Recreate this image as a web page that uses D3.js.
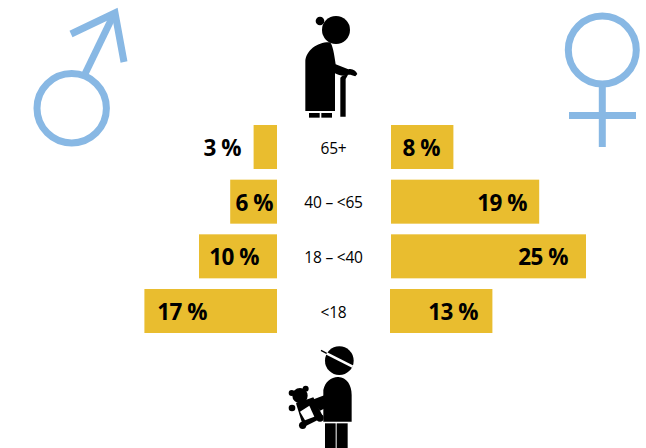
<!DOCTYPE html>
<html>
<head>
<meta charset="utf-8">
<script src="https://cdn.jsdelivr.net/npm/d3@7"></script>
<style>
html,body{margin:0;padding:0;background:#fff}
svg{display:block}
text{font-family:"Open Sans",sans-serif;fill:#000}
</style>
</head>
<body>
<svg id="chart" width="646" height="448"></svg>
<script>
// Age groups, oldest first
const ageGroups = ["65+", "40 – <65", "18 – <40", "<18"];
// Share of each group, in percent
const maleShare = [3, 6, 10, 17];
const femaleShare = [8, 19, 25, 13];

const barColor = "#e9bd2f";
const symbolColor = "#88b8e4";

const svg = d3.select("#chart");

const y = d3.scaleBand().domain(ageGroups).range([125, 333]).paddingInner(0.195);
const widthOf = d3.scaleLinear().domain([0, 25]).range([0, 195]);
const maleAxisX = 277;
const femaleAxisX = 391;

// Right-hand end of each value label, set by hand so the text sits clear of the bar ends
const maleLabelEnd = new Map([[3, 241], [6, 273], [10, 259], [17, 207]]);
const femaleLabelEnd = new Map([[8, 440], [19, 527], [25, 568], [13, 478]]);

const rows = ageGroups.map((age, i) => ({ age, male: maleShare[i], female: femaleShare[i] }));

// Male bars grow leftwards from the centre column
svg.append("g").selectAll("rect").data(rows).join("rect")
  .attr("x", d => maleAxisX - widthOf(d.male))
  .attr("y", d => y(d.age))
  .attr("width", d => widthOf(d.male))
  .attr("height", y.bandwidth())
  .attr("fill", barColor);

// Female bars grow rightwards; the youngest row starts a pixel further left
svg.append("g").selectAll("rect").data(rows).join("rect")
  .attr("x", d => femaleAxisX - (d.age === "<18" ? 1 : 0))
  .attr("y", d => y(d.age))
  .attr("width", d => widthOf(d.female) + (d.age === "<18" ? 1 : 0))
  .attr("height", y.bandwidth())
  .attr("fill", barColor);

const labelStyle = sel => sel
  .attr("y", d => y(d.age) + y.bandwidth() / 2 + 1)
  .attr("dy", "0.36em")
  .attr("text-anchor", "end")
  .attr("font-size", 22.5)
  .attr("font-weight", 700)
  .attr("letter-spacing", -0.5);

svg.append("g").selectAll("text").data(rows).join("text")
  .call(labelStyle)
  .attr("x", d => maleLabelEnd.get(d.male))
  .text(d => d.male + " %");

svg.append("g").selectAll("text").data(rows).join("text")
  .call(labelStyle)
  .attr("x", d => femaleLabelEnd.get(d.female))
  .text(d => d.female + " %");

// Age labels down the centre column
svg.append("g").selectAll("text").data(rows).join("text")
  .attr("x", 333.5)
  .attr("y", d => y(d.age) + y.bandwidth() / 2 + 1)
  .attr("dy", "0.36em")
  .attr("text-anchor", "middle")
  .attr("font-size", 15.5)
  .attr("letter-spacing", -0.2)
  .text(d => d.age);

// Mars symbol
const mars = svg.append("g").attr("fill", "none").attr("stroke", symbolColor).attr("stroke-width", 7);
mars.append("circle").attr("cx", 71.7).attr("cy", 108.3).attr("r", 34.7);
mars.append("path").attr("d", "M84 76L113 16");
mars.append("path").attr("d", "M71 34L115 13L124 62").attr("stroke-linejoin", "miter");

// Venus symbol
const venus = svg.append("g").attr("fill", "none").attr("stroke", symbolColor).attr("stroke-width", 7);
venus.append("circle").attr("cx", 602.3).attr("cy", 50).attr("r", 34);
venus.append("path").attr("d", "M602.3 84V147");
venus.append("path").attr("d", "M569 115.5H636");

// Elderly figure, drawn on a 3x grid
const elder = svg.append("g").attr("transform", "translate(280,5) scale(0.3333)");
elder.append("circle").attr("cx", 168).attr("cy", 75).attr("r", 42);
elder.append("circle").attr("cx", 120).attr("cy", 48).attr("r", 13);
elder.append("path").attr("d",
  "M76 318V172C76 135 115 110 150 112C158 118 163 150 167 178L205 193C218 190 228 198 232 207L226 214C216 210 208 208 202 210C190 214 178 212 165 205V318Z");
elder.append("path").attr("d", "M181 335V218C186 212 194 210 205 208L197 222V335Z");
elder.append("rect").attr("x", 87).attr("y", 324).attr("width", 32).attr("height", 14);
elder.append("rect").attr("x", 124).attr("y", 324).attr("width", 32).attr("height", 14);

// Child holding a teddy bear, same 3x grid
const child = svg.append("g").attr("transform", "translate(270,340) scale(0.3333)");
child.append("circle").attr("cx", 208).attr("cy", 62).attr("r", 43);
child.append("path").attr("d", "M165 38L248 80").attr("stroke", "#fff").attr("stroke-width", 8);
child.append("path").attr("d", "M153 31L170 40").attr("stroke", "#000").attr("stroke-width", 4);
child.append("path").attr("d", "M160 245V150C165 125 185 110 205 111C230 112 245 135 245 165V245Z");
child.append("rect").attr("x", 165).attr("y", 250).attr("width", 32).attr("height", 87);
child.append("rect").attr("x", 200).attr("y", 250).attr("width", 33).attr("height", 87);

const teddy = child.append("g");
teddy.append("circle").attr("cx", 90).attr("cy", 167).attr("r", 23);
teddy.append("circle").attr("cx", 65).attr("cy", 159).attr("r", 9);
teddy.append("circle").attr("cx", 107).attr("cy", 146).attr("r", 9);
teddy.append("path").attr("d", "M78 190L130 172L160 232L100 262Z");
teddy.append("circle").attr("cx", 66).attr("cy", 204).attr("r", 10);
teddy.append("circle").attr("cx", 98).attr("cy", 256).attr("r", 11);
teddy.append("circle").attr("cx", 150).attr("cy", 234).attr("r", 11);
teddy.append("path").attr("d", "M125 180L165 165V205L150 212Z");
teddy.append("path").attr("d", "M90 215L118 197L133 230L105 241Z").attr("fill", "#fff");
</script>
</body>
</html>
